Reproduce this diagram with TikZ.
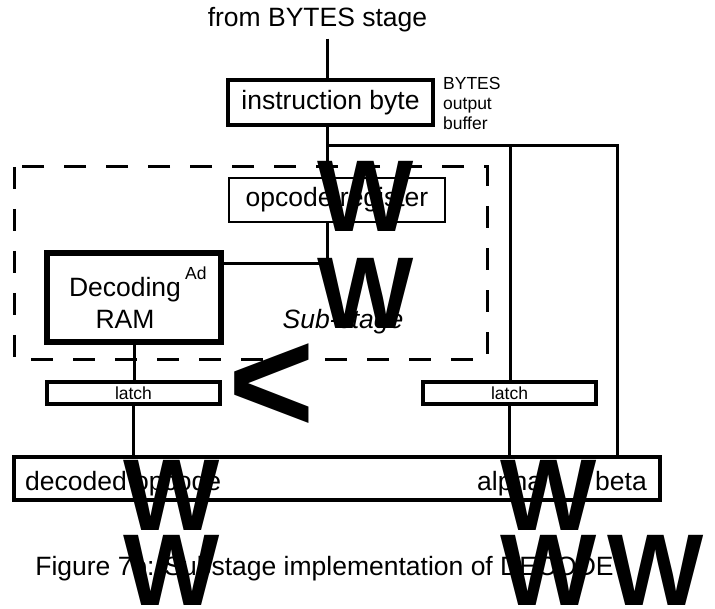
\documentclass[tikz,border=0pt]{standalone}
\usepackage{fontspec}
\setmainfont{Liberation Sans}
\begin{document}
\begin{tikzpicture}[x=1pt, y=-1pt,
    box/.style={draw, line width=3.2pt, inner sep=0pt, font=\fontsize{26.5}{32}\selectfont},
    txt/.style={inner sep=0pt, font=\fontsize{26.5}{32}\selectfont},
    small/.style={inner sep=0pt, font=\fontsize{17.5}{20}\selectfont},
    glyph/.style={inner sep=0pt, anchor=base west, font=\fontsize{102}{102}\selectfont\bfseries},
    wire/.style={line width=3pt}]
    \useasboundingbox (0,0) rectangle (715,609);
    % boxes and labels
    \node[txt, anchor=base] (src) at (317.5,27) {from BYTES stage};
    \node[box, minimum width=205pt, minimum height=45pt] (ibyte) at (330.5,102.5) {instruction byte};
    \node[small, anchor=north west, align=left] (buf) at (443,77) {BYTES\\output\\buffer};
    \draw[line width=3pt, dash pattern=on 22pt off 20pt] (14,167) rectangle (487,360);
    \node[box, line width=2.4pt, minimum width=216pt, minimum height=44pt] (opreg) at (337,200) {opcode register};
    \node[box, line width=5.5pt, minimum width=174pt, minimum height=89pt] (dram) at (134,297.5) {};
    \node[txt, align=center] (dtxt) at (125,303) {Decoding\\RAM};
    \node[small, anchor=base west] (ad) at (185,280) {Ad};
    \node[txt, anchor=base, font=\fontsize{26.5}{32}\selectfont\itshape] (sub) at (343,329) {Sub-stage};
    \node[box, font=\fontsize{17.5}{20}\selectfont, minimum width=173pt, minimum height=22pt] (latchl) at (133.5,393) {latch};
    \node[box, font=\fontsize{17.5}{20}\selectfont, minimum width=173pt, minimum height=22pt] (latchr) at (509.5,393) {latch};
    \node[box, minimum width=646pt, minimum height=43pt] (dec) at (337,478.5) {};
    \node[txt, anchor=base west] (dop) at (25,490) {decoded opcode};
    \node[txt, anchor=base west] (alpha) at (477,490) {alpha};
    \node[txt, anchor=base west] (beta) at (595,490) {beta};
    \node[txt, anchor=base] (cap) at (324.5,575) {Figure 7b: Substage implementation of DECODE};
    % wires
    \coordinate (split) at (327,146);
    \coordinate (mid) at (510,146);
    \coordinate (rgt) at (617,146);
    \coordinate (bend) at (327,264);
    \draw[wire, shorten <=6pt] (split |- src.south) -- (split |- ibyte.north);
    \draw[wire] (split |- ibyte.south) -- (split |- opreg.north);
    \draw[wire] (split) -- (rgt) -- (rgt |- dec.north);
    \draw[wire] (mid) -- (mid |- latchr.north);
    \draw[wire] (split |- opreg.south) -- (bend) -- (bend -| dram.east);
    \draw[wire] (dram.south) -- (dram.south |- latchl.north);
    \draw[wire] (latchl.south) -- (latchl.south |- dec.north);
    \draw[wire] (latchr.south) -- (latchr.south |- dec.north);
    % stray glyphs
    \foreach \x/\y in {317/232, 317/329, 123/530, 500/530, 123/605, 500/605, 607/605}
        \node[glyph] (w-\x-\y) at (\x,\y) {W};
    \node[inner sep=0pt, anchor=base west, font=\fontsize{148}{148}\selectfont\bfseries] (lt) at (228,433) {<};
\end{tikzpicture}
\end{document}
